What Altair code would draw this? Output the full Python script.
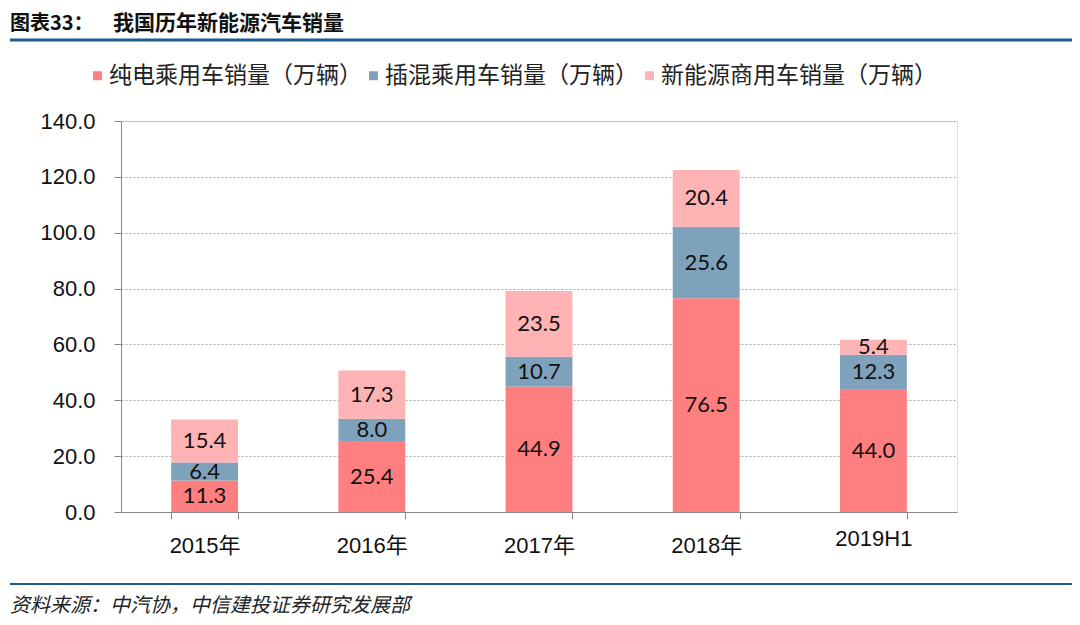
import altair as alt
import pandas as pd

years = ["2015年", "2016年", "2017年", "2018年", "2019H1"]
series = ["纯电乘用车销量（万辆）", "插混乘用车销量（万辆）", "新能源商用车销量（万辆）"]
pure_ev = [11.3, 25.4, 44.9, 76.5, 44.0]
phev = [6.4, 8.0, 10.7, 25.6, 12.3]
commercial = [15.4, 17.3, 23.5, 20.4, 5.4]
colors = ["#FF7F80", "#7FA2BC", "#FFB3B5"]
y_ticks = [0, 20, 40, 60, 80, 100, 120, 140]
title_num = "图表33："
title_text = "我国历年新能源汽车销量"
source_text = "资料来源：中汽协，中信建投证券研究发展部"

rows = []
for i, y in enumerate(years):
    for k, (s, vals) in enumerate(zip(series, [pure_ev, phev, commercial])):
        rows.append({"year": y, "series": s, "value": vals[i], "order": k})
df = pd.DataFrame(rows)

W, H = 836, 391
LEFT, TOP = 113, 113

base = alt.Chart(df).transform_stack(
    stack="value", groupby=["year"], sort=[alt.SortField("order")], as_=["y0", "y1"]
).transform_calculate(mid="(datum.y0 + datum.y1) / 2")

xenc = alt.X(
    "year:N",
    sort=years,
    title=None,
    scale=alt.Scale(paddingInner=0.6, paddingOuter=0.3),
    axis=alt.Axis(
        labelAngle=0, labelFontSize=22, labelColor="#111",
        labelFont="Liberation Sans Narrow, Liberation Sans, Noto Sans CJK SC",
        labelPadding={"condition": {"test": "datum.value === '2019H1'", "value": 9}, "value": 16},
        tickBand="extent", tickSize=7, tickColor="#888", domainColor="#888",
        grid=False,
    ),
)
yenc_scale = alt.Scale(domain=[0, 140], nice=False)

bars = base.mark_bar().encode(
    x=xenc,
    y=alt.Y(
        "y0:Q", scale=yenc_scale, title=None,
        axis=alt.Axis(
            values=y_ticks, format=".1f", labelFontSize=22, labelColor="#111",
            labelFont="Liberation Sans", labelPadding=19, tickSize=7,
            tickColor="#888", domainColor="#888", gridColor="#aaa",
            gridDash=[2, 2], gridWidth=1,
        ),
    ),
    y2="y1:Q",
    color=alt.Color(
        "series:N",
        scale=alt.Scale(domain=series, range=colors),
        legend=alt.Legend(
            title=None, orient="none", direction="horizontal",
            legendX=-35, legendY=-57, symbolType="square", symbolSize=80,
            symbolStrokeWidth=0, labelFontSize=23, labelColor="#222",
            labelFont="Noto Sans CJK SC", columnPadding=0, labelLimit=400,
            labelOffset=0,
        ),
    ),
)

labels = base.mark_text(fontSize=22, color="#111", font="Lato").encode(
    x=alt.X("year:N", sort=years),
    y=alt.Y("mid:Q", scale=yenc_scale),
    text=alt.Text("value:Q", format=".1f"),
)

deco = pd.DataFrame({"t": [title_num], "u": [title_text]})
title1 = alt.Chart(deco).mark_text(
    align="left", baseline="middle", fontSize=20, fontWeight="bold",
    font="Noto Sans CJK SC", color="#111",
).encode(x=alt.value(10 - 121), y=alt.value(24 - 121), text="t:N")
title2 = alt.Chart(deco).mark_text(
    align="left", baseline="middle", fontSize=21, fontWeight="bold",
    font="Noto Sans CJK SC", color="#111",
).encode(x=alt.value(113 - 121), y=alt.value(24 - 121), text="u:N")

src = pd.DataFrame({"t": [source_text]})
footer = alt.Chart(src).mark_text(
    align="left", baseline="middle", fontSize=20, fontStyle="italic",
    font="Noto Sans CJK SC", color="#222",
).encode(x=alt.value(10 - 121), y=alt.value(606 - 121), text="t:N")

line_top = alt.Chart(deco).mark_rule(color="#1D5B8C", strokeWidth=3).encode(
    x=alt.value(10 - 121), x2=alt.value(1072 - 121), y=alt.value(40 - 121)
)
line_bot = alt.Chart(deco).mark_rule(color="#1D5B8C", strokeWidth=2).encode(
    x=alt.value(10 - 121), x2=alt.value(1072 - 121), y=alt.value(584 - 121)
)

chart = alt.layer(bars, labels, title1, title2, footer, line_top, line_bot).properties(
    width=W, height=H,
    autosize=alt.AutoSizeParams(type="none"),
    padding={"left": LEFT, "top": TOP, "right": 1064 - LEFT - W, "bottom": 609 - TOP - H},
).configure_view(stroke=None).configure(background="white")

chart.save("out.html", embed_options={"renderer": "svg", "actions": False})
